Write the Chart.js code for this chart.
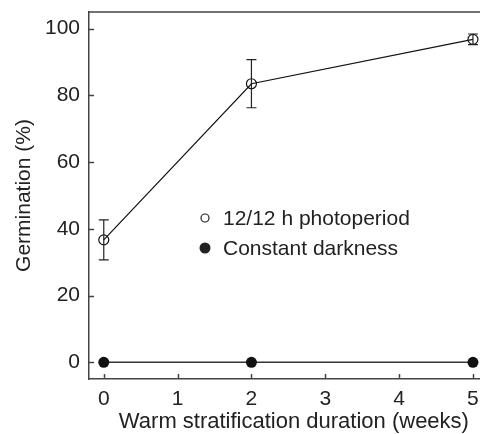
<!DOCTYPE html>
<html>
<head>
<meta charset="utf-8">
<script src="https://cdn.jsdelivr.net/npm/chart.js@4.4.0/dist/chart.umd.min.js"></script>
<style>
  html, body { margin: 0; padding: 0; background: #fff; overflow: hidden; }
  /* the source figure is cropped on the right, so the plot runs past the window edge */
  #wrap { width: 505px; height: 434px; position: relative; }
</style>
</head>
<body>
<div id="wrap"><canvas id="chart"></canvas></div>
<script>
// data
var weeks = [0, 2, 5];
var photoperiod = [36.7, 83.5, 96.8];
var photoperiodErr = [6.0, 7.2, 1.6];
var darkness = [0, 0, 0];
var xTicks = [0, 1, 2, 3, 4, 5];
var yTicks = [0, 20, 40, 60, 80, 100];
var seriesNames = ["12/12 h photoperiod", "Constant darkness"];

var FONT = "'Liberation Sans', Arial, sans-serif";
var INK = "#222";

function toPoints(xs, ys) {
    return xs.map((x, i) => { return { x: x, y: ys[i] }; });
}

// error bars, inward ticks, top frame line and the in-plot legend
var extras = {
    id: 'extras',
    afterDatasetsDraw: function (chart) {
        var ctx = chart.ctx;
        var xs = chart.scales.x, ys = chart.scales.y;
        var area = chart.chartArea;
        ctx.save();
        ctx.strokeStyle = INK;
        ctx.lineWidth = 1.2;
        weeks.forEach(function (w, i) {
            var px = xs.getPixelForValue(w);
            var top = ys.getPixelForValue(photoperiod[i] + photoperiodErr[i]);
            var bot = ys.getPixelForValue(photoperiod[i] - photoperiodErr[i]);
            ctx.beginPath();
            ctx.moveTo(px, top); ctx.lineTo(px, bot);
            ctx.moveTo(px - 5, top); ctx.lineTo(px + 5, top);
            ctx.moveTo(px - 5, bot); ctx.lineTo(px + 5, bot);
            ctx.stroke();
        });

        ctx.strokeStyle = "#444";
        ctx.lineWidth = 1.5;
        ctx.beginPath();
        ctx.moveTo(area.left, area.top);
        ctx.lineTo(area.right, area.top);
        xTicks.forEach(function (t) {
            var px = Math.round(xs.getPixelForValue(t)) + 0.5;
            ctx.moveTo(px, area.bottom); ctx.lineTo(px, area.bottom - 5);
        });
        yTicks.forEach(function (t) {
            var py = Math.round(ys.getPixelForValue(t)) + 0.5;
            ctx.moveTo(area.left, py); ctx.lineTo(area.left + 5, py);
        });
        ctx.stroke();

        // legend
        var lx = 205, ly = [218, 248];
        ctx.font = "21px " + FONT;
        ctx.textBaseline = "middle";
        ctx.fillStyle = INK;
        ctx.lineWidth = 1.2;
        ctx.strokeStyle = INK;
        ctx.beginPath();
        ctx.arc(lx, ly[0], 4, 0, Math.PI * 2);
        ctx.stroke();
        ctx.beginPath();
        ctx.arc(lx, ly[1], 5.5, 0, Math.PI * 2);
        ctx.fill();
        ctx.fillText(seriesNames[0], lx + 18, ly[0] + 1);
        ctx.fillText(seriesNames[1], lx + 18, ly[1] + 1);
        ctx.restore();
    }
};

Chart.defaults.font.family = FONT;
Chart.defaults.font.size = 21;
Chart.defaults.color = INK;

new Chart(document.getElementById('chart'), {
    type: 'scatter',
    data: {
        datasets: [
            {
                label: seriesNames[1],
                data: toPoints(weeks, darkness),
                showLine: true,
                borderColor: "#333",
                borderWidth: 1.5,
                pointRadius: 5.5,
                pointBackgroundColor: "#111",
                pointBorderColor: "#111",
                pointBorderWidth: 0
            },
            {
                label: seriesNames[0],
                data: toPoints(weeks, photoperiod),
                showLine: true,
                borderColor: "#111",
                borderWidth: 1.2,
                pointRadius: 5,
                pointBackgroundColor: "rgba(255,255,255,0)",
                pointBorderColor: "#111",
                pointBorderWidth: 1.2
            }
        ]
    },
    options: {
        responsive: true,
        maintainAspectRatio: false,
        animation: false,
        events: [],
        layout: { padding: { top: 12, right: 0, left: 0, bottom: 0 } },
        scales: {
            x: {
                type: 'linear',
                min: -0.2,
                max: 5.35,
                afterBuildTicks: function (s) { s.ticks = xTicks.map(v => ({ value: v })); },
                afterFit: function (s) { s.height = 55; s.paddingLeft = 0; s.paddingRight = 0; },
                grid: { display: false, drawTicks: false },
                border: { display: true, color: "#444", width: 1.5 },
                ticks: { padding: 8, maxRotation: 0, autoSkip: false },
                title: {
                    display: true,
                    text: "Warm stratification duration (weeks)",
                    font: { size: 22, lineHeight: 1.1 },
                    padding: { top: 0, bottom: 0 }
                }
            },
            y: {
                type: 'linear',
                min: -5,
                max: 105,
                afterBuildTicks: function (s) { s.ticks = yTicks.map(v => ({ value: v })); },
                afterFit: function (s) { s.width = 89; s.paddingTop = 0; s.paddingBottom = 0; },
                grid: { display: false, drawTicks: false },
                border: { display: true, color: "#444", width: 1.5 },
                ticks: { padding: 9 },
                title: {
                    display: true,
                    text: "Germination (%)",
                    font: { lineHeight: 1.1 },
                    padding: { top: 13, bottom: 0 }
                }
            }
        },
        plugins: {
            legend: { display: false },
            tooltip: { enabled: false }
        }
    },
    plugins: [extras]
});
</script>
</body>
</html>
